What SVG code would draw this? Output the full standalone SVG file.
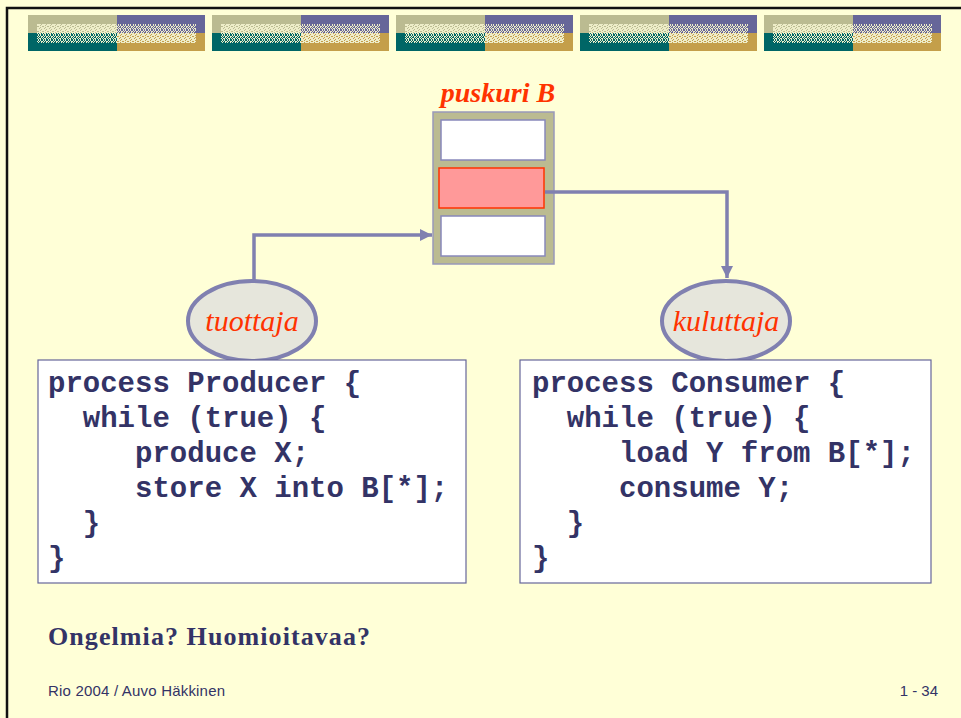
<svg xmlns="http://www.w3.org/2000/svg" width="961" height="718" viewBox="0 0 961 718">
  <style>
    .code { font-family: "Liberation Mono", "Courier New", monospace; font-weight: bold; font-size: 29px; fill: #333366; white-space: pre; }
    .codebox { fill: #ffffff; stroke: #666699; stroke-width: 1.2; }
    .role { fill: #e6e6dc; stroke: #8080b0; stroke-width: 4; }
    .rolelabel { font-family: "Liberation Serif", "Times New Roman", serif; font-style: italic; font-size: 30px; fill: #ff3300; text-anchor: middle; }
    .wire { fill: none; stroke: #8080b0; stroke-width: 3.5; }
    .slot { fill: #ffffff; stroke: #8888bb; stroke-width: 1.5; }
    .dither { fill: #eeedc8; shape-rendering: crispEdges; }
  </style>
  <defs>
    <!-- dithered light speckle used inside the header tiles -->
    <pattern id="ditherDense" patternUnits="userSpaceOnUse" width="5" height="5">
      <path class="dither" d="M0,0h2v1h-2z M3,0h2v1h-2z M1,1h3v1h-3z M0,2h2v1h-2z M3,2h2v1h-2z M0,3h1v1h-1z M2,3h3v1h-3z M0,4h3v1h-3z M4,4h1v1h-1z"/>
    </pattern>
    <pattern id="ditherMid" patternUnits="userSpaceOnUse" width="5" height="5">
      <path class="dither" d="M0,0h1v1h-1z M2,0h1v1h-1z M1,1h1v1h-1z M3,1h2v1h-2z M0,2h1v1h-1z M3,2h1v1h-1z M1,3h2v1h-2z M4,3h1v1h-1z M0,4h1v1h-1z M2,4h1v1h-1z"/>
    </pattern>
    <!-- one decorative header tile -->
    <g id="tile" shape-rendering="crispEdges">
      <rect x="0" y="0" width="89" height="18" fill="#bbbb91"/>
      <rect x="89" y="0" width="88" height="18" fill="#666699"/>
      <rect x="0" y="18" width="89" height="18" fill="#006666"/>
      <rect x="89" y="18" width="88" height="18" fill="#c49f4a"/>
      <rect x="9" y="9" width="80" height="9" fill="url(#ditherDense)"/>
      <rect x="89" y="9" width="79" height="9" fill="url(#ditherMid)"/>
      <rect x="9" y="18" width="80" height="10" fill="url(#ditherMid)"/>
      <rect x="89" y="18" width="79" height="10" fill="url(#ditherDense)"/>
    </g>
    <marker id="arrow" markerUnits="userSpaceOnUse" markerWidth="14" markerHeight="12" refX="12" refY="6" orient="auto">
      <path d="M0,0 L12,6 L0,12 Z" fill="#8080b0"/>
    </marker>
  </defs>

  <!-- page -->
  <rect x="0" y="0" width="961" height="718" fill="#ffffd7"/>
  <path d="M7,718 V8 H961" fill="none" stroke="#111111" stroke-width="2.5"/>

  <!-- header tiles -->
  <g id="header">
    <use href="#tile" x="28" y="15"/>
    <use href="#tile" x="212" y="15"/>
    <use href="#tile" x="396" y="15"/>
    <use href="#tile" x="580" y="15"/>
    <use href="#tile" x="764" y="15"/>
  </g>

  <!-- buffer -->
  <g id="buffer">
    <text x="498" y="102" font-family="Liberation Serif, Times New Roman, serif" font-style="italic" font-weight="bold" font-size="28" fill="#ff3300" text-anchor="middle">puskuri B</text>
    <rect x="433" y="112" width="121" height="152" fill="#bbbb91" stroke="#9999bb" stroke-width="1.5"/>
    <rect class="slot" x="441" y="120" width="104" height="40"/>
    <rect x="439" y="168" width="105" height="40" fill="#ff9999" stroke="#ff3300" stroke-width="1.5"/>
    <rect class="slot" x="441" y="216" width="104" height="40"/>
  </g>

  <!-- connectors -->
  <g id="connectors">
    <path class="wire" d="M254,282 V235 H432" marker-end="url(#arrow)"/>
    <path class="wire" d="M545,192 H727 V278" marker-end="url(#arrow)"/>
  </g>

  <!-- producer role -->
  <g id="producer-role">
    <ellipse class="role" cx="252" cy="321" rx="64" ry="40"/>
    <text class="rolelabel" x="252" y="331">tuottaja</text>
  </g>

  <!-- consumer role -->
  <g id="consumer-role">
    <ellipse class="role" cx="726" cy="321" rx="64" ry="40"/>
    <text class="rolelabel" x="726" y="331">kuluttaja</text>
  </g>

  <!-- producer code -->
  <g id="producer-code">
    <rect class="codebox" x="38" y="360" width="428" height="223"/>
    <text class="code" x="48" y="392">process Producer {</text>
    <text class="code" x="48" y="427">  while (true) {</text>
    <text class="code" x="48" y="462">     produce X;</text>
    <text class="code" x="48" y="497">     store X into B[*];</text>
    <text class="code" x="48" y="532">  }</text>
    <text class="code" x="48" y="567">}</text>
  </g>

  <!-- consumer code -->
  <g id="consumer-code">
    <rect class="codebox" x="520" y="360" width="411" height="223"/>
    <text class="code" x="532" y="392">process Consumer {</text>
    <text class="code" x="532" y="427">  while (true) {</text>
    <text class="code" x="532" y="462">     load Y from B[*];</text>
    <text class="code" x="532" y="497">     consume Y;</text>
    <text class="code" x="532" y="532">  }</text>
    <text class="code" x="532" y="567">}</text>
  </g>

  <!-- question and footer -->
  <g id="question">
    <text x="48" y="645" font-family="Liberation Serif, Times New Roman, serif" font-weight="bold" font-size="26" fill="#333366" textLength="322">Ongelmia? Huomioitavaa?</text>
  </g>
  <g id="footer">
    <text x="48" y="696" font-family="Liberation Sans, Arial, sans-serif" font-size="15" fill="#333366" textLength="177">Rio 2004 / Auvo Häkkinen</text>
    <text x="938" y="696" font-family="Liberation Sans, Arial, sans-serif" font-size="15" fill="#333366" text-anchor="end">1 - 34</text>
  </g>
</svg>
